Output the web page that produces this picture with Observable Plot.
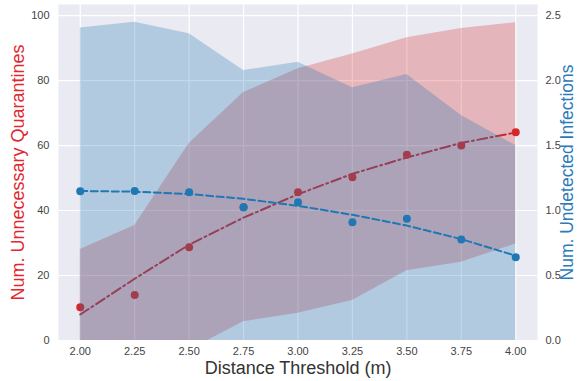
<!DOCTYPE html>
<html>
<head>
<meta charset="utf-8">
<script src="https://cdn.jsdelivr.net/npm/d3@7"></script>
<script src="https://cdn.jsdelivr.net/npm/@observablehq/plot@0.6"></script>
<style>
  html, body { margin: 0; padding: 0; background: #ffffff; }
  #chart { width: 578px; height: 381px; }
</style>
</head>
<body>
<div id="chart"></div>
<script>
// ---- data ----
const thresholds = [2.00, 2.25, 2.50, 2.75, 3.00, 3.25, 3.50, 3.75, 4.00];

// Left axis: Num. Unnecessary Quarantines
const quarantinePoints = [10.2, 14.0, 28.7, 41.0, 45.6, 50.2, 57.2, 60.0, 64.1];
const quarantineTrend  = [8.0, 19.0, 29.5, 37.8, 45.0, 51.3, 56.3, 60.8, 64.0];
const quarantineUpper  = [28.0, 35.4, 60.6, 76.3, 83.6, 88.2, 93.2, 96.0, 97.8];
const quarantineLower  = [0.0, 0.0, -3.0, 5.8, 8.4, 12.3, 21.5, 24.1, 29.7];

// Right axis: Num. Undetected Infections
const infectionPoints = [1.149, 1.150, 1.140, 1.025, 1.064, 0.910, 0.936, 0.777, 0.641];
const infectionTrend  = [1.150, 1.145, 1.127, 1.090, 1.036, 0.967, 0.884, 0.780, 0.652];
const infectionUpper  = [2.405, 2.449, 2.360, 2.077, 2.140, 1.944, 2.046, 1.731, 1.500];
const infectionLower  = [0, 0, 0, 0, 0, 0, 0, 0, 0];

const xTicks = [2.00, 2.25, 2.50, 2.75, 3.00, 3.25, 3.50, 3.75, 4.00];
const leftTicks = [0, 20, 40, 60, 80, 100];
const rightTicks = [0.0, 0.5, 1.0, 1.5, 2.0, 2.5];
const RIGHT_SCALE = 40; // right-axis unit -> left-axis unit

// ---- tables ----
const quarantine = thresholds.map((x, i) => ({
  x, pt: quarantinePoints[i], trend: quarantineTrend[i], lo: quarantineLower[i], hi: quarantineUpper[i]
}));
const infection = thresholds.map((x, i) => ({
  x, pt: infectionPoints[i], trend: infectionTrend[i], lo: infectionLower[i], hi: infectionUpper[i]
}));

const RED = "#d62728";
const BLUE = "#1f77b4";
const FONT = "'Liberation Sans', Arial, sans-serif";

const chart = Plot.plot({
  width: 578,
  height: 381,
  marginLeft: 58,
  marginRight: 41,
  marginTop: 4,
  marginBottom: 41,
  style: { background: "#ffffff", fontFamily: FONT, fontSize: "11px", color: "#444" },
  x: { domain: [1.9, 4.1] },
  y: { domain: [0, 103.4] },
  marks: [
    Plot.frame({ fill: "#EAEAF2", stroke: "none" }),
    Plot.gridX(xTicks, { stroke: "#ffffff", strokeOpacity: 1, strokeWidth: 1.2 }),
    Plot.gridY(leftTicks, { stroke: "#ffffff", strokeOpacity: 1, strokeWidth: 1.2 }),

    // red series (left axis)
    Plot.areaY(quarantine, { x: "x", y1: "lo", y2: "hi", fill: RED, fillOpacity: 0.27, clip: true }),
    Plot.line(quarantine, { x: "x", y: "trend", stroke: "#c42b35", strokeWidth: 2,
      strokeDasharray: "10,3.5,2,3.5", clip: true }),
    Plot.dot(quarantine, { x: "x", y: "pt", r: 4, fill: RED, stroke: "none" }),

    // blue series (right axis, mapped onto left scale)
    Plot.areaY(infection, { x: "x", y1: d => d.lo * RIGHT_SCALE, y2: d => d.hi * RIGHT_SCALE,
      fill: BLUE, fillOpacity: 0.28, clip: true }),
    Plot.line(infection, { x: "x", y: d => d.trend * RIGHT_SCALE, stroke: BLUE, strokeWidth: 2,
      strokeDasharray: "7,3.5", clip: true }),
    Plot.dot(infection, { x: "x", y: d => d.pt * RIGHT_SCALE, r: 4, fill: BLUE, stroke: "none" }),

    // axes
    Plot.axisX(xTicks, { tickSize: 0, tickPadding: 7, tickFormat: d => d.toFixed(2), label: null,
      fill: "#444", fontSize: 11 }),
    Plot.axisY(leftTicks, { anchor: "left", tickSize: 0, tickPadding: 9, label: null,
      fill: "#444", fontSize: 11 }),
    Plot.axisY(rightTicks.map(v => v * RIGHT_SCALE), { anchor: "right", tickSize: 0, tickPadding: 8,
      tickFormat: d => (d / RIGHT_SCALE).toFixed(1), label: null, fill: "#444", fontSize: 11 }),

    // axis titles
    Plot.text(["Distance Threshold (m)"], { frameAnchor: "bottom", dy: 28, text: d => d,
      fontSize: 18, fill: "#333", textAnchor: "middle", lineAnchor: "middle" }),
    Plot.text(["Num. Unnecessary Quarantines"], { frameAnchor: "left", dx: -40, rotate: -90,
      text: d => d, fontSize: 18, fill: "#e3262e", textAnchor: "middle", lineAnchor: "middle" }),
    Plot.text(["Num. Undetected Infections"], { frameAnchor: "right", dx: 30, rotate: -90,
      text: d => d, fontSize: 17.5, fill: "#2b7bba", textAnchor: "middle", lineAnchor: "middle" })
  ]
});

document.getElementById("chart").appendChild(chart);
</script>
</body>
</html>
